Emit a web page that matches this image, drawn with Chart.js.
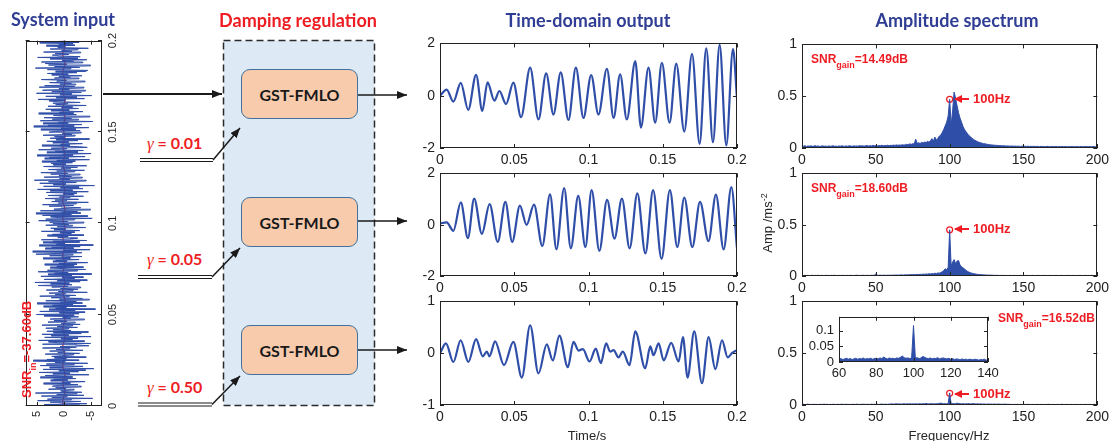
<!DOCTYPE html>
<html>
<head>
<meta charset="utf-8">
<script src="https://cdn.jsdelivr.net/npm/chart.js@4.4.1/dist/chart.umd.min.js"></script>
<style>
  body { margin: 0; background: #fff; }
  #page { position: relative; width: 1113px; height: 441px; overflow: hidden; background: #fff;
          font-family: 'Liberation Sans', Arial, sans-serif; }
  .title { position: absolute; font-family: Lato, 'Open Sans', sans-serif; font-weight: 700; font-size: 18px;
           white-space: nowrap; transform: translate(-50%, -50%); }
  .blue { color: #2f3d94; }
  .red { color: #ee1d23; }
  .gst { position: absolute; width: 117px; height: 50px; box-sizing: border-box; background: #f8cbad;
         border: 1.5px solid #41719c; border-radius: 9px; font-family: Lato, sans-serif; font-weight: 700;
         font-size: 16px; color: #1a1a1a; display: flex; align-items: center; justify-content: center; }
  .gamma { position: absolute; color: #ee1d23; font-family: Lato, sans-serif; font-weight: 700; font-size: 16px;
           line-height: 18px; white-space: nowrap; }
  .gamma i { font-family: 'Liberation Serif', 'DejaVu Serif', serif; font-weight: normal; font-size: 17px; }
  .snr { position: absolute; color: #ee1d23; font-weight: 700; font-size: 12px; line-height: 14px; white-space: nowrap; }
  .snr sub { font-size: 9px; vertical-align: -5px; line-height: 0; }
  .hz { position: absolute; color: #ee1d23; font-weight: 700; font-size: 13px; line-height: 16px; white-space: nowrap; }
  .axlab { position: absolute; font-size: 13px; color: #262626; white-space: nowrap; transform: translate(-50%, -50%); }
  .abs { position: absolute; left: 0; top: 0; }
</style>
</head>
<body>
<div id="page">
  <svg class="abs" width="1113" height="441">
    <defs>
      <marker id="ah" markerWidth="10" markerHeight="8" refX="10" refY="4" orient="auto" markerUnits="userSpaceOnUse">
        <path d="M0,0 L10,4 L0,8 z" fill="#1a1a1a"/>
      </marker>
      <marker id="ahr" markerWidth="8" markerHeight="8" refX="7" refY="4" orient="auto" markerUnits="userSpaceOnUse">
        <path d="M0,0 L8,4 L0,8 z" fill="#ee1d23"/>
      </marker>
    </defs>
    <rect x="223.5" y="40.5" width="151" height="365" fill="#ddeaf6" stroke="#2a2a2a" stroke-width="1.5" stroke-dasharray="7 4"/>
    <g stroke="#1a1a1a" fill="none">
      <line x1="103" y1="94" x2="222" y2="94" stroke-width="2" marker-end="url(#ah)"/>
      <line x1="358" y1="95" x2="407" y2="95" stroke-width="1.5" marker-end="url(#ah)"/>
      <line x1="358" y1="221" x2="407" y2="221" stroke-width="1.5" marker-end="url(#ah)"/>
      <line x1="358" y1="350" x2="407" y2="350" stroke-width="1.5" marker-end="url(#ah)"/>
      <line x1="140" y1="158.5" x2="213" y2="158.5" stroke-width="1.2"/>
      <line x1="140" y1="161.5" x2="213" y2="161.5" stroke-width="1.2"/>
      <line x1="213" y1="160" x2="240" y2="128" stroke-width="1.5" marker-end="url(#ah)"/>
      <line x1="138" y1="275.5" x2="212" y2="275.5" stroke-width="1.2"/>
      <line x1="138" y1="278.5" x2="212" y2="278.5" stroke-width="1.2"/>
      <line x1="212" y1="277" x2="240" y2="248" stroke-width="1.5" marker-end="url(#ah)"/>
      <line x1="138" y1="403" x2="212" y2="403" stroke-width="1.2"/>
      <line x1="138" y1="406" x2="212" y2="406" stroke-width="1.2"/>
      <line x1="212" y1="404.5" x2="240" y2="376" stroke-width="1.5" marker-end="url(#ah)"/>
    </g>
  </svg>

  <div class="gst" style="left:241px;top:69px">GST-FMLO</div>
  <div class="gst" style="left:241px;top:197px">GST-FMLO</div>
  <div class="gst" style="left:241px;top:325px">GST-FMLO</div>

  <div class="gamma" style="left:147px;top:134px"><i>γ</i> = 0.01</div>
  <div class="gamma" style="left:147px;top:250px"><i>γ</i> = 0.05</div>
  <div class="gamma" style="left:147px;top:378px"><i>γ</i> = 0.50</div>

  <div id="charts" class="abs" style="width:1113px;height:441px"></div>

  <svg class="abs" width="1113" height="441">
    <g stroke="#ee1d23" stroke-width="2" fill="none">
      <line x1="969" y1="99" x2="955" y2="99" marker-end="url(#ahr)"/>
      <line x1="969" y1="229" x2="955" y2="229" marker-end="url(#ahr)"/>
      <line x1="969" y1="394" x2="955" y2="394" marker-end="url(#ahr)"/>
    </g>
  </svg>

  <div class="title blue" style="left:63px;top:19px">System input</div>
  <div class="title red" style="left:298px;top:20px">Damping regulation</div>
  <div class="title blue" style="left:588px;top:20px">Time-domain output</div>
  <div class="title blue" style="left:957px;top:20px">Amplitude spectrum</div>

  <div class="snr" style="left:811px;top:52px">SNR<sub>gain</sub>=14.49dB</div>
  <div class="snr" style="left:811px;top:181px">SNR<sub>gain</sub>=18.60dB</div>
  <div class="snr" style="left:998px;top:311px">SNR<sub>gain</sub>=16.52dB</div>
  <div class="hz" style="left:973px;top:91px">100Hz</div>
  <div class="hz" style="left:973px;top:221px">100Hz</div>
  <div class="hz" style="left:973px;top:386px">100Hz</div>

  <div class="axlab" style="left:587px;top:435px">Time/s</div>
  <div class="axlab" style="left:949px;top:435px">Frequency/Hz</div>
  <div class="axlab" style="left:767px;top:223px;transform:translate(-50%,-50%) rotate(-90deg)">Amp /ms<sup style="font-size:9px">-2</sup></div>
</div>

<script>
// system input: noisy signal (blue) and clean 100 Hz component (red)
var inputNoise = [
  1.8, -2.9, 3.6, -4.2, 0.7, 2.5, -3.1, 4.8, -1.4, 3.0, -5.3, 2.2, -0.6, 4.1, -3.7, 1.3, -2.4, 5.2, -3.3, 0.4,
  0.6, -1.9, 2.8, -0.4, 1.5, -3.2, 2.1, 0.8, -2.6, 3.7, -1.2, 0.3, -3.9, 2.4, -0.7, 1.9, -2.2, 4.3, -1.6, 0.9,
  3.4, -4.6, 2.0, -1.1, 4.5, -2.7, 0.9, -4.0, 3.8, -5.5, 2.6, 0.2, -3.5, 4.3, -1.9, 3.2, -4.4, 1.6, -0.3, 5.6,
  -2.8, 3.1, -0.5, 1.7, -4.1, 2.2, 0.4, -1.8, 3.4, -2.9, 1.1, -0.2, 2.6, -3.5, 1.4, -1.1, 3.9, -2.3, 0.7, -4.6,
  -2.2, 3.9, -4.9, 1.0, 2.8, -3.8, 4.6, -1.6, 0.5, -2.6, 3.5, -5.0, 2.3, -0.9, 4.0, -3.2, 1.9, -4.5, 3.1, -1.3,
  2.0, -0.9, 3.3, -2.5, 1.2, -1.6, 4.0, -3.0, 0.5, -2.1, 2.9, -0.6, 1.8, -3.8, 2.5, -1.3, 0.2, -2.7, 3.6, -1.9,
  5.0, -2.8, 0.8, -3.9, 4.4, -2.1, 2.7, -5.8, 1.5, -0.5, 3.7, -4.1, 2.1, -1.7, 4.9, -3.4, 0.6, -2.3, 3.3, -4.7,
  0.8, -3.4, 2.3, -1.0, 4.4, -2.2, 1.6, -0.3, 2.7, -4.3, 1.0, -1.7, 3.2, -2.6, 0.6, -3.1, 2.2, -0.8, 4.7, -1.5,
  2.4, -1.0, 5.3, -3.0, 1.2, -4.3, 3.6, -2.0, 0.3, -3.6, 4.2, -1.5, 2.9, -5.1, 1.7, -0.8, 4.7, -2.5, 3.0, -4.0,
  -0.4, 2.5, -3.6, 1.3, -1.9, 3.5, -2.4, 0.9, -4.4, 2.0, -0.6, 1.5, -2.8, 3.8, -1.2, 0.4, -3.3, 2.6, -1.7, 5.1,
  1.1, -3.3, 5.7, -2.4, 0.1, -4.8, 3.4, -1.8, 2.2, -3.0, 4.5, -5.4, 1.4, -0.2, 3.8, -2.9, 2.0, -4.2, 4.1, -1.2,
  -2.5, 1.1, -0.8, 3.0, -3.7, 2.1, -1.4, 0.7, -2.0, 4.1, -2.9, 1.8, -0.3, 2.4, -4.0, 1.2, -1.6, 3.3, -0.9, 2.0,
  -3.7, 2.6, -0.7, 4.6, -2.0, 3.3, -5.2, 0.9, 2.4, -4.4, 3.9, -1.4, 5.1, -3.1, 0.4, -2.5, 4.3, -4.9, 1.8, -0.1,
  -3.1, 0.5, 2.7, -1.8, 3.9, -2.3, 1.0, -4.5, 2.2, -0.5, 1.6, -2.7, 3.4, -1.1, 0.8, -3.6, 2.9, -1.9, 0.1, -2.4,
  3.2, -4.5, 2.5, -1.6, 4.8, -3.5, 0.6, -2.8, 3.7, -5.6, 1.9, -0.4, 4.4, -2.3, 2.8, -4.1, 5.4, -1.1, 0.8, -3.4,
  3.6, -1.4, 0.9, -3.0, 2.4, -0.7, 4.2, -2.0, 1.3, -3.8, 2.8, -1.2, 0.5, -2.5, 3.7, -4.2, 1.9, -0.4, 2.3, -1.6,
  4.0, -2.1, 1.3, -4.7, 3.5, -0.9, 2.7, -3.9, 4.9, -1.7, 0.2, -5.0, 3.1, -2.6, 1.6, -3.6, 4.6, -0.5, 2.3, -4.3,
  -2.9, 4.0, -1.1, 0.6, -3.4, 2.0, -0.9, 3.1, -2.6, 1.4, -4.7, 2.5, -0.2, 1.7, -2.1, 3.8, -1.5, 0.3, -3.2, 2.7,
  1.5, -3.0, 4.2, -2.2, 0.5, -4.6, 5.5, -1.9, 2.9, -3.3, 3.8, -0.8, 1.0, -5.3, 4.3, -2.7, 2.1, -1.4, 3.6, -4.8,
  -0.6, 1.9, -2.3, 4.6, -1.8, 0.8, -3.5, 2.3, -1.0, 3.3, -2.7, 0.4, -1.6, 2.9, -4.1, 1.5, -0.7, 2.0, -3.0, 1.1,
  2.7, -0.3, 4.7, -3.8, 1.4, -2.4, 3.3, -5.1, 0.7, -1.5, 5.0, -3.2, 2.2, -4.0, 3.9, -1.0, 0.9, -3.7, 4.5, -2.0,
  3.5, -2.2, 0.7, -1.4, 2.6, -3.9, 1.3, -0.5, 4.1, -2.8, 1.7, -1.2, 0.9, -3.3, 2.2, -0.8, 3.0, -2.4, 1.5, -4.0,
  -4.4, 3.0, -1.3, 5.2, -2.9, 1.7, -4.9, 2.8, -0.6, 3.4, -3.5, 4.1, -1.8, 0.3, -4.2, 2.5, -2.6, 4.8, -3.0, 1.2,
  2.1, -0.9, 1.6, -3.1, 3.7, -1.5, 0.4, -2.6, 2.5, -4.5, 1.1, -0.3, 3.2, -2.0, 0.9, -1.7, 4.4, -2.8, 1.0, -0.4
];
var inputClean = [
  0, 0.2, 0, -0.2, 0, 0.2, 0, -0.2, 0, 0.2, 0, -0.2, 0, 0.2, 0, -0.2, 0, 0.2, 0, -0.2,
  0, 0.2, 0, -0.2, 0, 0.2, 0, -0.2, 0, 0.2, 0, -0.2, 0, 0.2, 0, -0.2, 0, 0.2, 0, -0.2,
  0, 0.2, 0, -0.2, 0, 0.2, 0, -0.2, 0, 0.2, 0, -0.2, 0, 0.2, 0, -0.2, 0, 0.2, 0, -0.2,
  0, 0.2, 0, -0.2, 0, 0.2, 0, -0.2, 0, 0.2, 0, -0.2, 0, 0.2, 0, -0.2, 0, 0.2, 0, -0.2,
  0
];
var inputDuration = 0.2;

// time-domain outputs (turning points of each curve)
var outT1 = [0, 0.0045, 0.009, 0.014, 0.019, 0.0243, 0.0285, 0.032, 0.0366, 0.04, 0.0445, 0.0494, 0.0546, 0.0607, 0.0663,
  0.0715, 0.0764, 0.0813, 0.0865, 0.0915, 0.0966, 0.1018, 0.1067, 0.1124, 0.1169, 0.1213, 0.1258, 0.1315, 0.1353,
  0.1404, 0.1449, 0.1494, 0.1546, 0.1591, 0.1645, 0.1697, 0.1748, 0.1793, 0.1838, 0.1883, 0.1928, 0.1973, 0.2];
var outY1 = [0, 0.23, -0.23, 0.49, -0.54, 0.8, -0.58, 0.51, -0.19, 0.18, -0.32, 0.5, -0.82, 1.07, -0.91,
  0.85, -0.72, 0.89, -0.93, 1.07, -0.85, 0.79, -0.72, 1.03, -0.85, 0.82, -0.91, 1.32, -1.22,
  1.07, -1.03, 1.26, -1.03, 1.23, -1.37, 1.6, -1.84, 1.81, -1.78, 1.94, -1.9, 1.78, -0.1];
var outT2 = [0, 0.0045, 0.009, 0.014, 0.0188, 0.023, 0.0282, 0.0334, 0.0389, 0.044, 0.0486, 0.0538, 0.0583, 0.0633,
  0.0689, 0.0741, 0.0784, 0.0836, 0.0881, 0.0931, 0.0979, 0.1021, 0.1073, 0.1125, 0.1175, 0.1225, 0.1277, 0.1329,
  0.1383, 0.1435, 0.1492, 0.1548, 0.1598, 0.1645, 0.1699, 0.1751, 0.1808, 0.1858, 0.191, 0.1962, 0.2];
var outY2 = [0.05, 0.09, -0.24, 0.87, -0.52, 1.02, -0.36, 0.8, -0.67, 0.89, -0.67, 0.74, -0.01, 0.78,
  -0.83, 1.18, -0.96, 1.43, -0.92, 1.12, -0.87, 1.35, -1.02, 0.97, -0.54, 1.02, -0.92, 1.22,
  -1.12, 1.35, -1.33, 1.35, -0.87, 1.06, -0.87, 0.89, -0.64, 1.17, -0.96, 1.47, -0.92];
var outT3 = [0, 0.004, 0.009, 0.0139, 0.0191, 0.0243, 0.0288, 0.0315, 0.0333, 0.0371, 0.0431, 0.0494, 0.0551, 0.0607,
  0.0663, 0.0719, 0.076, 0.0804, 0.0861, 0.0899, 0.0933, 0.0962, 0.1007, 0.1049, 0.1083, 0.1119, 0.1146, 0.1169,
  0.1202, 0.1231, 0.1276, 0.1315, 0.1382, 0.1416, 0.1438, 0.1472, 0.1506, 0.1557, 0.1607, 0.1636, 0.1667, 0.1712,
  0.1764, 0.1809, 0.1854, 0.1899, 0.1937, 0.1966, 0.2];
var outY3 = [0, 0.19, -0.17, 0.25, -0.17, 0.27, -0.06, 0.03, -0.06, 0.23, -0.23, 0.22, -0.47, 0.54,
  -0.39, 0.17, -0.14, 0.34, -0.27, 0.22, 0.05, 0.08, -0.16, 0.09, -0.19, 0.19, 0.03, 0.06,
  -0.08, 0.03, -0.23, 0.42, -0.29, 0.13, -0.04, 0.19, -0.14, 0.2, -0.16, 0.31, -0.47, 0.42,
  -0.58, 0.31, -0.31, 0.25, -0.08, 0, 0.06];

// amplitude spectra, 1 Hz bins from 0 to 200 Hz
var specStep = 1;
var spec1 = [
  0.020, 0.018, 0.022, 0.015, 0.020, 0.017, 0.021, 0.016, 0.019, 0.022,
  0.017, 0.020, 0.015, 0.018, 0.021, 0.016, 0.019, 0.014, 0.020, 0.017,
  0.018, 0.022, 0.016, 0.019, 0.015, 0.020, 0.017, 0.021, 0.018, 0.016,
  0.020, 0.017, 0.022, 0.019, 0.016, 0.021, 0.018, 0.020, 0.017, 0.023,
  0.019, 0.022, 0.018, 0.021, 0.024, 0.019, 0.022, 0.020, 0.025, 0.021,
  0.023, 0.020, 0.024, 0.022, 0.026, 0.021, 0.025, 0.023, 0.027, 0.022,
  0.026, 0.024, 0.028, 0.025, 0.030, 0.026, 0.029, 0.027, 0.032, 0.028,
  0.031, 0.036, 0.032, 0.040, 0.035, 0.042, 0.038, 0.085, 0.045, 0.050,
  0.044, 0.055, 0.048, 0.058, 0.052, 0.064, 0.056, 0.070, 0.090, 0.066,
  0.105, 0.078, 0.092, 0.115, 0.125, 0.150, 0.180, 0.215, 0.250, 0.310,
  0.470, 0.220, 0.360, 0.540, 0.480, 0.410, 0.340, 0.290, 0.250, 0.210,
  0.180, 0.160, 0.140, 0.120, 0.110, 0.095, 0.085, 0.075, 0.068, 0.060,
  0.055, 0.050, 0.046, 0.042, 0.040, 0.037, 0.034, 0.032, 0.030, 0.029,
  0.027, 0.026, 0.025, 0.024, 0.023, 0.022, 0.022, 0.021, 0.020, 0.020,
  0.019, 0.018, 0.020, 0.017, 0.019, 0.016, 0.018, 0.017, 0.015, 0.018,
  0.016, 0.017, 0.015, 0.018, 0.014, 0.016, 0.015, 0.017, 0.014, 0.016,
  0.015, 0.013, 0.016, 0.014, 0.015, 0.013, 0.016, 0.014, 0.012, 0.015,
  0.014, 0.013, 0.015, 0.012, 0.014, 0.013, 0.015, 0.012, 0.014, 0.013,
  0.012, 0.014, 0.013, 0.015, 0.012, 0.013, 0.014, 0.012, 0.013, 0.014,
  0.012, 0.013, 0.015, 0.012, 0.014, 0.013, 0.012, 0.014, 0.013, 0.012,
  0.013
];
var spec2 = [
  0.006, 0.004, 0.007, 0.005, 0.006, 0.004, 0.005, 0.007, 0.004, 0.006,
  0.005, 0.007, 0.004, 0.006, 0.005, 0.004, 0.007, 0.005, 0.006, 0.004,
  0.006, 0.005, 0.007, 0.004, 0.005, 0.006, 0.004, 0.007, 0.005, 0.006,
  0.004, 0.006, 0.005, 0.007, 0.005, 0.004, 0.006, 0.008, 0.005, 0.006,
  0.005, 0.007, 0.006, 0.005, 0.007, 0.006, 0.005, 0.007, 0.006, 0.008,
  0.020, 0.007, 0.006, 0.008, 0.006, 0.007, 0.008, 0.006, 0.008, 0.007,
  0.008, 0.007, 0.009, 0.008, 0.010, 0.008, 0.009, 0.011, 0.009, 0.010,
  0.012, 0.010, 0.013, 0.011, 0.014, 0.012, 0.015, 0.013, 0.016, 0.014,
  0.017, 0.015, 0.019, 0.016, 0.020, 0.018, 0.022, 0.019, 0.024, 0.021,
  0.027, 0.024, 0.030, 0.028, 0.035, 0.040, 0.055, 0.070, 0.060, 0.085,
  0.450, 0.100, 0.135, 0.160, 0.120, 0.145, 0.150, 0.110, 0.090, 0.080,
  0.070, 0.055, 0.046, 0.038, 0.032, 0.028, 0.024, 0.021, 0.018, 0.016,
  0.014, 0.013, 0.012, 0.011, 0.010, 0.009, 0.009, 0.008, 0.008, 0.007,
  0.007, 0.006, 0.007, 0.006, 0.005, 0.006, 0.005, 0.006, 0.005, 0.004,
  0.005, 0.006, 0.004, 0.005, 0.006, 0.004, 0.005, 0.004, 0.006, 0.005,
  0.004, 0.005, 0.006, 0.004, 0.005, 0.004, 0.006, 0.005, 0.004, 0.005,
  0.006, 0.004, 0.005, 0.004, 0.006, 0.005, 0.004, 0.005, 0.006, 0.004,
  0.005, 0.004, 0.006, 0.005, 0.004, 0.005, 0.006, 0.004, 0.005, 0.004,
  0.006, 0.005, 0.004, 0.005, 0.006, 0.004, 0.005, 0.004, 0.006, 0.005,
  0.004, 0.005, 0.006, 0.004, 0.005, 0.004, 0.006, 0.005, 0.004, 0.005,
  0.006
];
var spec3 = [
  0.005, 0.007, 0.004, 0.006, 0.008, 0.005, 0.006, 0.004, 0.007, 0.005,
  0.006, 0.004, 0.007, 0.005, 0.006, 0.008, 0.005, 0.007, 0.004, 0.006,
  0.005, 0.007, 0.006, 0.004, 0.007, 0.005, 0.006, 0.008, 0.005, 0.006,
  0.007, 0.005, 0.006, 0.004, 0.007, 0.006, 0.005, 0.008, 0.006, 0.005,
  0.007, 0.006, 0.008, 0.005, 0.007, 0.006, 0.005, 0.008, 0.006, 0.007,
  0.006, 0.008, 0.005, 0.007, 0.009, 0.006, 0.008, 0.007, 0.006, 0.008,
  0.009, 0.011, 0.008, 0.010, 0.012, 0.009, 0.011, 0.008, 0.010, 0.012,
  0.009, 0.011, 0.010, 0.013, 0.009, 0.011, 0.010, 0.012, 0.009, 0.011,
  0.012, 0.010, 0.013, 0.011, 0.016, 0.012, 0.010, 0.013, 0.011, 0.012,
  0.010, 0.013, 0.012, 0.015, 0.019, 0.014, 0.012, 0.013, 0.011, 0.014,
  0.117, 0.012, 0.014, 0.011, 0.013, 0.018, 0.015, 0.012, 0.011, 0.013,
  0.010, 0.012, 0.011, 0.014, 0.010, 0.012, 0.013, 0.011, 0.010, 0.012,
  0.009, 0.011, 0.008, 0.010, 0.009, 0.007, 0.010, 0.008, 0.009, 0.007,
  0.009, 0.008, 0.007, 0.009, 0.008, 0.006, 0.008, 0.007, 0.009, 0.006,
  0.007, 0.005, 0.006, 0.004, 0.006, 0.005, 0.007, 0.004, 0.006, 0.005,
  0.004, 0.006, 0.005, 0.007, 0.004, 0.005, 0.006, 0.004, 0.005, 0.006,
  0.005, 0.004, 0.006, 0.005, 0.004, 0.006, 0.005, 0.007, 0.004, 0.005,
  0.006, 0.004, 0.005, 0.006, 0.004, 0.005, 0.007, 0.005, 0.004, 0.006,
  0.005, 0.004, 0.006, 0.005, 0.004, 0.005, 0.006, 0.004, 0.005, 0.006,
  0.004, 0.005, 0.006, 0.004, 0.005, 0.006, 0.005, 0.004, 0.006, 0.005,
  0.004
];
var peakFreq = 100;
var peakAmp = [0.47, 0.45, 0.113];

var BLUE = '#2f4ea8';
var RED = '#ee1d23';
var AXIS = '#222222';

// MATLAB-like box with inward ticks on all four sides
var matlabBox = {
  id: 'matlabBox',
  afterDraw: function (chart) {
    var ctx = chart.ctx, a = chart.chartArea, sx = chart.scales.x, sy = chart.scales.y;
    var tl = 4;
    ctx.save();
    ctx.strokeStyle = AXIS;
    ctx.lineWidth = 1;
    ctx.strokeRect(Math.round(a.left) + 0.5, Math.round(a.top) + 0.5,
      Math.round(a.right - a.left) - 1, Math.round(a.bottom - a.top) - 1);
    ctx.beginPath();
    sx.ticks.forEach(function (t) {
      var px = Math.round(sx.getPixelForValue(t.value)) + 0.5;
      ctx.moveTo(px, a.bottom); ctx.lineTo(px, a.bottom - tl);
      ctx.moveTo(px, a.top); ctx.lineTo(px, a.top + tl);
    });
    sy.ticks.forEach(function (t) {
      var py = Math.round(sy.getPixelForValue(t.value)) + 0.5;
      ctx.moveTo(a.left, py); ctx.lineTo(a.left + tl, py);
      ctx.moveTo(a.right, py); ctx.lineTo(a.right - tl, py);
    });
    ctx.stroke();
    ctx.restore();
  }
};

function fmt(v) { return String(Math.round(v * 1000) / 1000); }

function makeChart(parent, box, pad, datasets, xs, ys, fontSize) {
  var w = box[2] - box[0] + pad[0] + pad[2];
  var h = box[3] - box[1] + pad[1] + pad[3];
  var c = document.createElement('canvas');
  c.width = w; c.height = h;
  c.style.cssText = 'position:absolute;left:' + (box[0] - pad[0]) + 'px;top:' + (box[1] - pad[1]) +
    'px;width:' + w + 'px;height:' + h + 'px';
  parent.appendChild(c);
  var tickFont = { family: "'Liberation Sans', Arial, sans-serif", size: fontSize };
  return new Chart(c, {
    type: 'line',
    data: { datasets: datasets },
    options: {
      responsive: false, animation: false, devicePixelRatio: 1,
      layout: { padding: { left: 0, top: pad[1], right: pad[2], bottom: 0 } },
      plugins: { legend: { display: false }, tooltip: { enabled: false } },
      elements: { point: { radius: 0 } },
      scales: {
        x: {
          type: 'linear', min: xs.min, max: xs.max,
          grid: { display: false, drawTicks: false }, border: { display: false },
          ticks: { stepSize: xs.step, includeBounds: false, autoSkip: false, maxRotation: 0,
                   color: AXIS, font: tickFont, padding: 4, callback: fmt },
          afterFit: function (s) { s.height = pad[3]; }
        },
        y: {
          type: 'linear', min: ys.min, max: ys.max,
          grid: { display: false, drawTicks: false }, border: { display: false },
          ticks: { stepSize: ys.step, includeBounds: false, autoSkip: false,
                   color: AXIS, font: tickFont, padding: 5, callback: fmt },
          afterFit: function (s) { s.width = pad[0]; }
        }
      }
    },
    plugins: [matlabBox]
  });
}

function pairs(xArr, yArr) {
  return yArr.map(function (v, i) { return { x: xArr[i], y: v }; });
}
function uniform(yArr, step) {
  return yArr.map(function (v, i) { return { x: i * step, y: v }; });
}

function timeSet(t, y) {
  return { data: pairs(t, y), borderColor: BLUE, borderWidth: 2.2, cubicInterpolationMode: 'monotone', pointRadius: 0 };
}
function specSets(spec, peak) {
  return [
    { data: uniform(spec, specStep), borderColor: BLUE, backgroundColor: BLUE, borderWidth: 1, fill: 'origin', pointRadius: 0 },
    { data: [{ x: peakFreq, y: peak }], showLine: false, pointRadius: 3, pointBorderWidth: 1.2,
      pointBorderColor: RED, pointBackgroundColor: 'rgba(0,0,0,0)' }
  ];
}

document.addEventListener('DOMContentLoaded', function () {
  var host = document.getElementById('charts');

  // rotated system input panel
  var rot = document.createElement('div');
  rot.style.cssText = 'position:absolute;left:14px;top:436px;width:407px;height:118px;transform-origin:0 0;transform:rotate(-90deg)';
  host.appendChild(rot);
  var nStep = inputDuration / (inputNoise.length - 1);
  var cStep = inputDuration / (inputClean.length - 1);
  makeChart(rot, [30, 4, 397, 88], [30, 4, 10, 30], [
    { data: uniform(inputNoise, nStep), borderColor: BLUE, borderWidth: 1, pointRadius: 0 },
    { data: uniform(inputClean, cStep), borderColor: RED, borderWidth: 1.2, pointRadius: 0, tension: 0.4 }
  ], { min: 0, max: 0.2, step: 0.05 }, { min: -7, max: 7, step: 5 }, 11);
  var snrIn = document.createElement('div');
  snrIn.className = 'snr';
  snrIn.style.cssText = 'left:38px;top:6px;font-size:13px';
  snrIn.innerHTML = 'SNR<sub>in</sub>=-37.60dB';
  rot.appendChild(snrIn);

  // time-domain outputs
  var tx = { min: 0, max: 0.2, step: 0.05 };
  makeChart(host, [440, 40, 737, 148], [40, 10, 14, 22], [timeSet(outT1, outY1)], tx, { min: -2, max: 2, step: 2 }, 14);
  makeChart(host, [440, 170, 737, 276], [40, 10, 14, 22], [timeSet(outT2, outY2)], tx, { min: -2, max: 2, step: 2 }, 14);
  makeChart(host, [440, 298, 737, 405], [40, 10, 14, 22], [timeSet(outT3, outY3)], tx, { min: -1, max: 1, step: 1 }, 14);

  // amplitude spectra
  var fx = { min: 0, max: 200, step: 50 };
  var fy = { min: 0, max: 1, step: 0.5 };
  makeChart(host, [802, 41, 1099, 148], [40, 10, 14, 22], specSets(spec1, peakAmp[0]), fx, fy, 14);
  makeChart(host, [802, 170, 1099, 276], [40, 10, 14, 22], specSets(spec2, peakAmp[1]), fx, fy, 14);
  makeChart(host, [802, 298, 1099, 405], [40, 10, 14, 22], specSets(spec3, peakAmp[2]), fx, fy, 14);

  // inset zoom of the third spectrum
  makeChart(host, [839, 312, 988, 362], [38, 8, 16, 20],
    [{ data: uniform(spec3, specStep), borderColor: BLUE, backgroundColor: BLUE, borderWidth: 1, fill: 'origin', pointRadius: 0 }],
    { min: 60, max: 140, step: 20 }, { min: 0, max: 0.145, step: 0.05 }, 13);
});
</script>
</body>
</html>
